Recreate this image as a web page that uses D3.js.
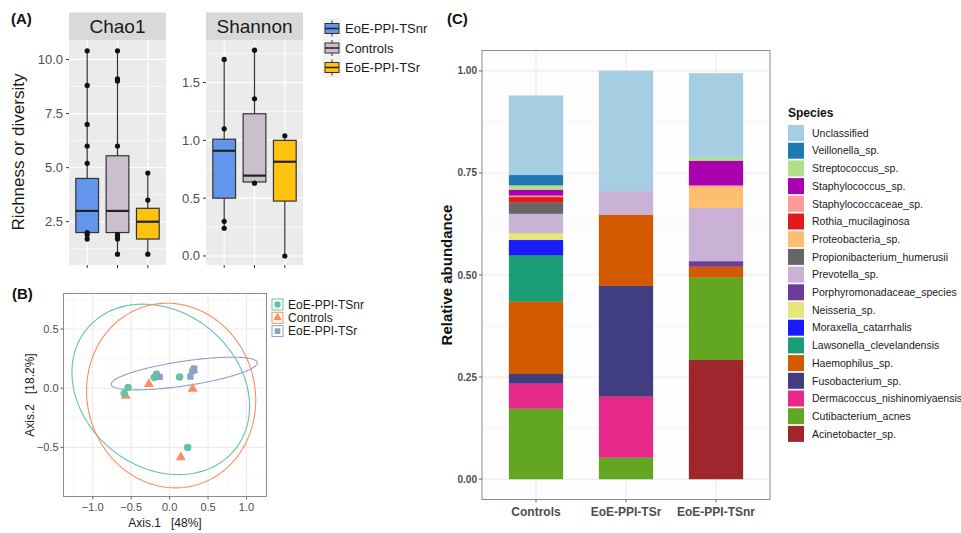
<!DOCTYPE html>
<meta charset="utf-8">
<head>
<title>Oesophageal microbiome</title>
<script src="https://d3js.org/d3.v7.min.js"></script>
<style>
body { margin: 0; background: #fff; }
text { font-family: "Liberation Sans", Arial, sans-serif; }
</style>
</head>
<body>
<div id="chart"></div>
<script>
var width = 961,
    height = 533;

// ---- (A) alpha diversity
var groupsA = ["EoE-PPI-TSnr", "Controls", "EoE-PPI-TSr"];
var boxColors = ["#6495ED", "#CBBFCD", "#FFC20E"];
// [lower whisker, q1, median, q3, upper whisker]
var chao1Stats = [[1.7, 2.0, 3.0, 4.5, 10.4], [1.0, 2.0, 3.0, 5.55, 10.4], [1.0, 1.7, 2.5, 3.12, 4.75]];
var chao1Points = [[10.4, 8.8, 7.0, 6.0, 5.2, 2.0, 1.9, 1.7], [10.4, 9.1, 9.0, 6.0, 1.9, 1.8, 1.7, 1.0], [4.75, 3.5, 1.0]];
var chao1Ticks = [2.5, 5.0, 7.5, 10.0];
var shannonStats = [[0.24, 0.5, 0.91, 1.01, 1.70], [0.63, 0.64, 0.695, 1.23, 1.78], [0.0, 0.475, 0.815, 1.0, 1.04]];
var shannonPoints = [[1.70, 1.10, 0.30, 0.24], [1.78, 1.36, 0.63], [1.04, 0.0]];
var shannonTicks = [0.0, 0.5, 1.0, 1.5];

// ---- (B) PCoA
var groupsB = ["EoE-PPI-TSnr", "Controls", "EoE-PPI-TSr"];
var pcoaColors = ["#66C2A5", "#FC8D62", "#8DA0CB"];
var pcoaTSnr = [[-0.54, 0.005], [-0.59, -0.045], [-0.20, 0.09], [-0.17, 0.118], [0.13, 0.095], [0.30, 0.145], [0.235, -0.50]];
var pcoaControls = [[-0.57, -0.065], [-0.27, 0.035], [-0.15, 0.098], [0.30, -0.005], [0.145, -0.585], [0.31, 0.15]];
var pcoaTSr = [[-0.13, 0.095], [0.27, 0.098], [0.31, 0.155], [0.32, 0.165]];
// confidence ellipses: [centre x, centre y, half width x, half height y, correlation]
var ellipseTSnr = [-0.115, -0.01, 1.155, 0.72, -0.2];
var ellipseControls = [0.02, -0.062, 1.10, 0.78, -0.05];
var ellipseTSr = [0.19, 0.124, 0.95, 0.138, 0.65];
var pcoaXTicks = [-1.0, -0.5, 0.0, 0.5, 1.0];
var pcoaYTicks = [-0.5, 0.0, 0.5];

// ---- (C) relative abundance
var categoriesC = ["Controls", "EoE-PPI-TSr", "EoE-PPI-TSnr"];
var species = ["Acinetobacter_sp.", "Cutibacterium_acnes", "Dermacoccus_nishinomiyaensis", "Fusobacterium_sp.",
  "Haemophilus_sp.", "Lawsonella_clevelandensis", "Moraxella_catarrhalis", "Neisseria_sp.",
  "Porphyromonadaceae_species", "Prevotella_sp.", "Propionibacterium_humerusii", "Proteobacteria_sp.",
  "Rothia_mucilaginosa", "Staphylococcaceae_sp.", "Staphylococcus_sp.", "Streptococcus_sp.",
  "Veillonella_sp.", "Unclassified"];
var speciesColors = ["#9E262C", "#62A622", "#E7298A", "#403E80", "#D35A00", "#1B9E77", "#1A1AFF", "#E6E67A",
  "#6A3D9A", "#CAB2D6", "#666666", "#FDBF6F", "#E31A1C", "#FB9A99", "#AA00B0", "#B2DF8A", "#1F78B4", "#A6CEE3"];
var controlsAbund = [0, 0.173, 0.0615, 0.023, 0.1775, 0.114, 0.037, 0.017, 0, 0.047, 0.028, 0, 0.013, 0.004, 0.014, 0.011, 0.025, 0.1945];
var tsrAbund = [0, 0.0526, 0.150, 0.271, 0.174, 0, 0, 0, 0, 0.058, 0, 0, 0, 0, 0, 0, 0, 0.2944];
var tsnrAbund = [0.292, 0.202, 0, 0, 0.027, 0, 0, 0, 0.013, 0.131, 0, 0.051, 0, 0.004, 0.060, 0.008, 0, 0.2063];
var abundTicks = [0, 0.25, 0.5, 0.75, 1.0];

var svg = d3.select("#chart").append("svg")
    .attr("width", width)
    .attr("height", height);

/* panel letters */
[["(A)", 11, 24], ["(B)", 12, 299], ["(C)", 447, 24]].forEach(function(l) {
  svg.append("text").attr("x", l[1]).attr("y", l[2])
    .attr("font-size", 15).attr("font-weight", "bold").attr("fill", "#111").text(l[0]);
});

/* ================= A ================= */
function drawFacet(name, x0, x1, domain, ticks, stats, points) {
  var top = 40, bottom = 265;
  var g = svg.append("g");
  var x = d3.scalePoint().domain(groupsA).range([x0, x1]).padding(0.6);
  var y = d3.scaleLinear().domain(domain).range([bottom, top]);
  var step = x.step();

  g.append("rect").attr("x", x0).attr("y", 12.5).attr("width", x1 - x0).attr("height", top - 12.5).attr("fill", "#D9D9D9");
  g.append("text").attr("x", (x0 + x1) / 2).attr("y", 33).attr("text-anchor", "middle")
    .attr("font-size", 19).attr("fill", "#1A1A1A").text(name);
  g.append("rect").attr("x", x0).attr("y", top).attr("width", x1 - x0).attr("height", bottom - top).attr("fill", "#EBEBEB");

  var minor = [];
  for (var i = 0; i <= ticks.length; i++) {
    var d = ticks[1] - ticks[0];
    var m = ticks[0] - d / 2 + i * d;
    if (m > domain[0] && m < domain[1]) minor.push(m);
  }
  g.selectAll(".minor").data(minor).enter().append("line")
    .attr("x1", x0).attr("x2", x1).attr("y1", y).attr("y2", y)
    .attr("stroke", "#fff").attr("stroke-width", 0.6);
  g.selectAll(".major").data(ticks).enter().append("line")
    .attr("x1", x0).attr("x2", x1).attr("y1", y).attr("y2", y)
    .attr("stroke", "#fff").attr("stroke-width", 1.2);
  g.selectAll(".vgrid").data(groupsA).enter().append("line")
    .attr("x1", x).attr("x2", x).attr("y1", top).attr("y2", bottom)
    .attr("stroke", "#fff").attr("stroke-width", 1.2);

  // axes
  g.selectAll(".ytick").data(ticks).enter().append("line")
    .attr("x1", x0 - 3).attr("x2", x0).attr("y1", y).attr("y2", y).attr("stroke", "#333");
  g.selectAll(".ylab").data(ticks).enter().append("text")
    .attr("x", x0 - 6).attr("y", function(d) { return y(d) + 4.5; })
    .attr("text-anchor", "end").attr("font-size", 13).attr("fill", "#4D4D4D")
    .text(function(d) { return d.toFixed(1); });
  g.selectAll(".xtick").data(groupsA).enter().append("line")
    .attr("x1", x).attr("x2", x).attr("y1", bottom).attr("y2", bottom + 3).attr("stroke", "#333");

  // boxes
  var bw = step * 0.75;
  stats.forEach(function(s, i) {
    var cx = x(groupsA[i]);
    g.append("line").attr("x1", cx).attr("x2", cx).attr("y1", y(s[0])).attr("y2", y(s[4]))
      .attr("stroke", "#333").attr("stroke-width", 1.2);
    g.append("rect").attr("x", cx - bw / 2).attr("width", bw)
      .attr("y", y(s[3])).attr("height", y(s[1]) - y(s[3]))
      .attr("fill", boxColors[i]).attr("stroke", "#333").attr("stroke-width", 1.2);
    g.append("line").attr("x1", cx - bw / 2).attr("x2", cx + bw / 2).attr("y1", y(s[2])).attr("y2", y(s[2]))
      .attr("stroke", "#222").attr("stroke-width", 2.2);
    g.selectAll(null).data(points[i]).enter().append("circle")
      .attr("cx", cx).attr("cy", y).attr("r", 2.6).attr("fill", "#111");
  });
}

drawFacet("Chao1", 69, 166, [0.5, 10.9], chao1Ticks, chao1Stats, chao1Points);
drawFacet("Shannon", 206, 303, [-0.078, 1.868], shannonTicks, shannonStats, shannonPoints);

svg.append("text").attr("transform", "translate(24,152) rotate(-90)")
  .attr("text-anchor", "middle").attr("font-size", 17).attr("fill", "#1A1A1A").text("Richness or diversity");

// legend A
groupsA.forEach(function(gname, i) {
  var cy = 28.5 + i * 19.5;
  svg.append("rect").attr("x", 322.5).attr("y", cy - 9.75).attr("width", 19).attr("height", 19.5).attr("fill", "#F2F2F2");
  svg.append("line").attr("x1", 332).attr("x2", 332).attr("y1", cy - 8).attr("y2", cy + 8).attr("stroke", "#333");
  svg.append("rect").attr("x", 325).attr("y", cy - 5).attr("width", 14).attr("height", 10)
    .attr("fill", boxColors[i]).attr("stroke", "#333");
  svg.append("line").attr("x1", 325).attr("x2", 339).attr("y1", cy).attr("y2", cy).attr("stroke", "#222").attr("stroke-width", 1.5);
  svg.append("text").attr("x", 345).attr("y", cy + 4.5).attr("font-size", 13).attr("fill", "#1A1A1A").text(gname);
});

/* ================= B ================= */
(function() {
  var x0 = 63.5, x1 = 266.5, top = 293.5, bottom = 496.5;
  var g = svg.append("g");
  var x = d3.scaleLinear().domain([-1.38, 1.26]).range([x0, x1]);
  var y = d3.scaleLinear().domain([-0.915, 0.80]).range([bottom, top]);

  g.append("rect").attr("x", x0).attr("y", top).attr("width", x1 - x0).attr("height", bottom - top).attr("fill", "#fff");
  var xMinor = [-1.25, -0.75, -0.25, 0.25, 0.75, 1.25];
  var yMinor = [-0.75, -0.25, 0.25, 0.75];
  g.selectAll(".xm").data(xMinor).enter().append("line")
    .attr("x1", x).attr("x2", x).attr("y1", top).attr("y2", bottom).attr("stroke", "#F2F2F2").attr("stroke-width", 0.6);
  g.selectAll(".ym").data(yMinor).enter().append("line")
    .attr("x1", x0).attr("x2", x1).attr("y1", y).attr("y2", y).attr("stroke", "#F2F2F2").attr("stroke-width", 0.6);
  g.selectAll(".xg").data(pcoaXTicks).enter().append("line")
    .attr("x1", x).attr("x2", x).attr("y1", top).attr("y2", bottom).attr("stroke", "#EBEBEB").attr("stroke-width", 1.1);
  g.selectAll(".yg").data(pcoaYTicks).enter().append("line")
    .attr("x1", x0).attr("x2", x1).attr("y1", y).attr("y2", y).attr("stroke", "#EBEBEB").attr("stroke-width", 1.1);

  var ellipses = [ellipseTSnr, ellipseControls, ellipseTSr];
  var line = d3.line().curve(d3.curveLinearClosed);
  ellipses.forEach(function(e, i) {
    var pts = d3.range(0, 2 * Math.PI, Math.PI / 90).map(function(t) {
      var ex = e[0] + e[2] * Math.cos(t);
      var ey = e[1] + e[3] * (e[4] * Math.cos(t) + Math.sqrt(1 - e[4] * e[4]) * Math.sin(t));
      return [x(ex), y(ey)];
    });
    g.append("path").attr("d", line(pts)).attr("fill", "none")
      .attr("stroke", pcoaColors[i]).attr("stroke-width", 1.1);
  });

  var shapes = [d3.symbolCircle, d3.symbolTriangle, d3.symbolSquare];
  var sets = [pcoaTSnr, pcoaControls, pcoaTSr];
  [1, 0, 2].forEach(function(i) {
    g.selectAll(null).data(sets[i]).enter().append("path")
      .attr("d", d3.symbol(shapes[i], i == 2 ? 40 : 44))
      .attr("transform", function(d) { return "translate(" + x(d[0]) + "," + y(d[1]) + ")"; })
      .attr("fill", pcoaColors[i]);
  });

  g.append("rect").attr("x", x0).attr("y", top).attr("width", x1 - x0).attr("height", bottom - top)
    .attr("fill", "none").attr("stroke", "#8C8C8C").attr("stroke-width", 1);

  g.selectAll(".xt").data(pcoaXTicks).enter().append("line")
    .attr("x1", x).attr("x2", x).attr("y1", bottom).attr("y2", bottom + 3).attr("stroke", "#666");
  g.selectAll(".xl").data(pcoaXTicks).enter().append("text")
    .attr("x", x).attr("y", bottom + 14).attr("text-anchor", "middle")
    .attr("font-size", 11).attr("fill", "#4D4D4D").text(function(d) { return d.toFixed(1).replace("-", "\u2212"); });
  g.selectAll(".yt").data(pcoaYTicks).enter().append("line")
    .attr("x1", x0 - 3).attr("x2", x0).attr("y1", y).attr("y2", y).attr("stroke", "#666");
  g.selectAll(".yl").data(pcoaYTicks).enter().append("text")
    .attr("x", x0 - 5).attr("y", function(d) { return y(d) + 4; }).attr("text-anchor", "end")
    .attr("font-size", 11).attr("fill", "#4D4D4D").text(function(d) { return d.toFixed(1).replace("-", "\u2212"); });

  svg.append("text").attr("x", (x0 + x1) / 2).attr("y", 527).attr("text-anchor", "middle")
    .attr("font-size", 12).attr("fill", "#1A1A1A").attr("xml:space", "preserve").text("Axis.1   [48%]");
  svg.append("text").attr("transform", "translate(34," + ((top + bottom) / 2) + ") rotate(-90)")
    .attr("text-anchor", "middle").attr("font-size", 12).attr("fill", "#1A1A1A")
    .attr("xml:space", "preserve").text("Axis.2   [18.2%]");

  groupsB.forEach(function(gname, i) {
    var cy = 304.5 + i * 13.3;
    svg.append("rect").attr("x", 272).attr("y", cy - 5.5).attr("width", 11).attr("height", 11)
      .attr("fill", "#fff").attr("stroke", pcoaColors[i]).attr("stroke-width", 1);
    svg.append("path").attr("d", d3.symbol(shapes[i], 32))
      .attr("transform", "translate(277.5," + cy + ")").attr("fill", pcoaColors[i]);
    svg.append("text").attr("x", 288).attr("y", cy + 4).attr("font-size", 12).attr("fill", "#1A1A1A").text(gname);
  });
})();

/* ================= C ================= */
(function() {
  var x0 = 482, x1 = 770, top = 50.5, bottom = 499.5;
  var g = svg.append("g");
  var x = d3.scalePoint().domain(categoriesC).range([x0, x1]).padding(0.6);
  var y = d3.scaleLinear().domain([-0.05, 1.05]).range([bottom, top]);
  var bw = x.step() * 0.6;

  var abund = [controlsAbund, tsrAbund, tsnrAbund];
  var table = categoriesC.map(function(c, ci) {
    var row = { category: c };
    species.forEach(function(s, si) { row[s] = abund[ci][si]; });
    return row;
  });
  var stacked = d3.stack().keys(species)(table);

  g.append("rect").attr("x", x0).attr("y", top).attr("width", x1 - x0).attr("height", bottom - top).attr("fill", "#FDFDFD");
  g.selectAll(".ym").data([0.125, 0.375, 0.625, 0.875]).enter().append("line")
    .attr("x1", x0).attr("x2", x1).attr("y1", y).attr("y2", y).attr("stroke", "#F2F2F2").attr("stroke-width", 0.7);
  g.selectAll(".yg").data(abundTicks).enter().append("line")
    .attr("x1", x0).attr("x2", x1).attr("y1", y).attr("y2", y).attr("stroke", "#EBEBEB").attr("stroke-width", 1.1);
  g.selectAll(".xg").data(categoriesC).enter().append("line")
    .attr("x1", x).attr("x2", x).attr("y1", top).attr("y2", bottom).attr("stroke", "#EBEBEB").attr("stroke-width", 1.1);

  stacked.forEach(function(layer, li) {
    g.selectAll(null).data(layer.filter(function(d) { return d[1] - d[0] > 0; })).enter().append("rect")
      .attr("x", function(d) { return x(d.data.category) - bw / 2; })
      .attr("width", bw)
      .attr("y", function(d) { return y(d[1]); })
      .attr("height", function(d) { return y(d[0]) - y(d[1]); })
      .attr("fill", speciesColors[li])
      .attr("stroke", speciesColors[li]).attr("stroke-opacity", 0.5).attr("stroke-width", 0.5);
  });

  g.append("rect").attr("x", x0).attr("y", top).attr("width", x1 - x0).attr("height", bottom - top)
    .attr("fill", "none").attr("stroke", "#8C8C8C").attr("stroke-width", 1);

  g.selectAll(".yt").data(abundTicks).enter().append("line")
    .attr("x1", x0 - 3).attr("x2", x0).attr("y1", y).attr("y2", y).attr("stroke", "#666");
  g.selectAll(".yl").data(abundTicks).enter().append("text")
    .attr("x", x0 - 5).attr("y", function(d) { return y(d) + 3.5; }).attr("text-anchor", "end")
    .attr("font-size", 10).attr("font-weight", "bold").attr("fill", "#4D4D4D")
    .text(function(d) { return d.toFixed(2); });
  g.selectAll(".xt").data(categoriesC).enter().append("line")
    .attr("x1", x).attr("x2", x).attr("y1", bottom).attr("y2", bottom + 3).attr("stroke", "#666");
  g.selectAll(".xl").data(categoriesC).enter().append("text")
    .attr("x", x).attr("y", 516).attr("text-anchor", "middle")
    .attr("font-size", 12).attr("font-weight", "bold").attr("fill", "#4D4D4D").text(function(d) { return d; });

  svg.append("text").attr("transform", "translate(452," + ((top + bottom) / 2) + ") rotate(-90)")
    .attr("text-anchor", "middle").attr("font-size", 15).attr("font-weight", "bold").attr("fill", "#111")
    .text("Relative abundance");

  svg.append("text").attr("x", 788).attr("y", 117).attr("font-size", 12).attr("font-weight", "bold")
    .attr("fill", "#111").text("Species");
  var legendOrder = species.slice().reverse();
  legendOrder.forEach(function(s, i) {
    var cy = 133 + i * 17.7;
    svg.append("rect").attr("x", 788).attr("y", cy - 8).attr("width", 16).attr("height", 16)
      .attr("fill", speciesColors[species.indexOf(s)]);
    svg.append("text").attr("x", 812).attr("y", cy + 3.7).attr("font-size", 10.5).attr("fill", "#1A1A1A").text(s);
  });
})();
</script>
</body>
